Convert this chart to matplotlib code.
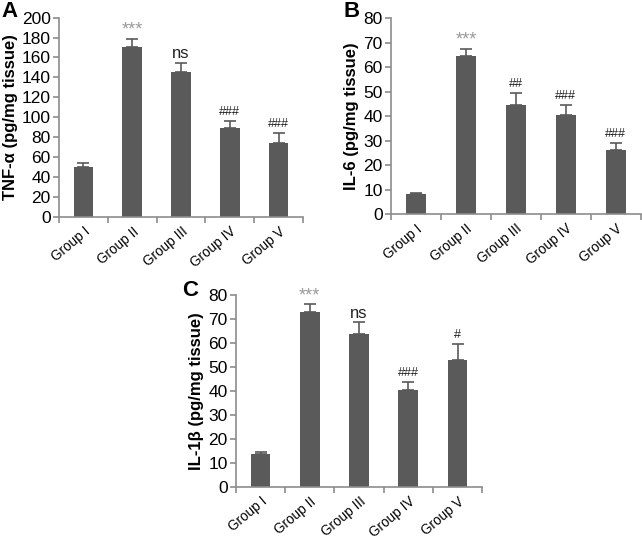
import matplotlib
matplotlib.use("Agg")
import matplotlib.pyplot as plt

plt.rcParams['font.family'] = ['Liberation Sans', 'DejaVu Sans']

groups = ["Group I", "Group II", "Group III", "Group IV", "Group V"]

tnf_vals = [50, 170, 145, 89, 74]
tnf_err = [4, 9, 9, 7, 10.5]
tnf_sig = ["", "***", "ns", "###", "###"]

il6_vals = [8.2, 64.5, 44.5, 40.5, 26]
il6_err = [0.3, 3, 5, 4, 3]
il6_sig = ["", "***", "##", "###", "###"]

il1b_vals = [13.5, 72.7, 63.7, 40.3, 52.7]
il1b_err = [1.2, 3.3, 4.8, 3.4, 7]
il1b_sig = ["", "***", "ns", "###", "#"]

BAR = "#5a5a5a"
AX = "#8c8c8c"

fig = plt.figure(figsize=(6.42, 5.41), dpi=100)

def panel(rect, vals, errs, sigs, ymax, ystep, ylabel, letter, letter_pos):
    ax = fig.add_axes(rect)
    x = list(range(len(vals)))
    ax.bar(x, vals, width=0.4, color=BAR, zorder=2)
    ax.errorbar(x, vals, yerr=[[0]*len(vals), errs], fmt='none', ecolor=BAR,
                elinewidth=1.2, capsize=4, capthick=1.2, zorder=3)
    ax.set_xlim(-0.5, len(vals) - 0.5)
    ax.set_ylim(0, ymax)
    ax.set_yticks(list(range(0, ymax + 1, ystep)))
    ax.set_xticks([i - 0.5 for i in range(len(vals) + 1)])
    ax.set_xticklabels([])
    ax.set_xticks(x, minor=True)
    ax.set_xticklabels(groups, minor=True, rotation=40, ha='right',
                       rotation_mode='anchor', fontsize=9.8)
    ax.tick_params(axis='x', which='minor', length=0, pad=5.5)
    ax.tick_params(axis='x', which='major', length=4, color=AX, width=1.2)
    ax.tick_params(axis='y', length=4, color=AX, width=1.2, labelsize=12.5, pad=2)
    for s in ['top', 'right']:
        ax.spines[s].set_visible(False)
    for s in ['left', 'bottom']:
        ax.spines[s].set_color(AX)
        ax.spines[s].set_linewidth(1.2)
    ax.set_ylabel(ylabel, fontsize=12, fontweight='bold', labelpad=3)
    for i, (v, e, s) in enumerate(zip(vals, errs, sigs)):
        if not s:
            continue
        if s == "***":
            ax.text(i, v + e, s, ha='center', va='bottom',
                    fontsize=13, color='#9a9a9a')
        elif s == "ns":
            ax.text(i, v + e + ymax * 0.01, s, ha='center', va='bottom',
                    fontsize=12, color='#222222')
        else:
            ax.text(i, v + e + ymax * 0.015, s, ha='center', va='bottom',
                    fontsize=9, color='#222222')
    fig.text(letter_pos[0], letter_pos[1], letter, fontsize=16, fontweight='bold',
             ha='left', va='top')
    return ax

panel([0.092, 0.5994, 0.380, 0.368], tnf_vals, tnf_err, tnf_sig, 200, 20,
      "TNF-α (pg/mg tissue)", "A", (0.002, 0.998))
panel([0.609, 0.6044, 0.389, 0.3623], il6_vals, il6_err, il6_sig, 80, 10,
      "IL-6 (pg/mg tissue)", "B", (0.535, 0.998))
panel([0.3676, 0.1, 0.3834, 0.3549], il1b_vals, il1b_err, il1b_sig, 80, 10,
      "IL-1β (pg/mg tissue)", "C", (0.283, 0.482))

fig.savefig("out.png", dpi=100)
